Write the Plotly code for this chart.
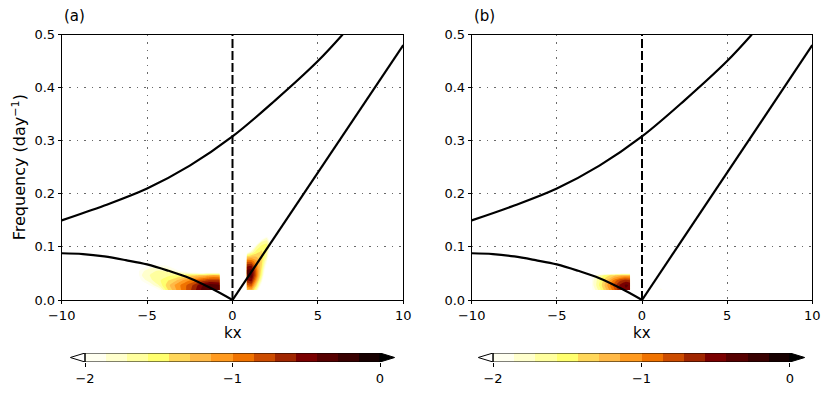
import plotly.graph_objects as go

# ページ余白 (body margin 8px) を差し引いた図のサイズ
OFF = 8
W, H = 830 - 2 * OFF, 394 - 2 * OFF

# 等高線の階級 (log10 パワー, -2 〜 0 を 14 階級)
level_start = -2.0
level_end = 0.0
level_size = 1 / 7
level_colors = ["#FFFFF0", "#FFFFCC", "#FFFF9E", "#FFFF6E", "#FFD75A", "#FFB947", "#FF9A1F",
                "#F07300", "#CC4C00", "#A02600", "#7A0000", "#560000", "#380000", "#160000"]

# 分散関係曲線
ig_kx = [-10, -7.5, -5, -2.5, 0, 2.5, 5, 6.45]
ig_freq = [0.150, 0.178, 0.210, 0.253, 0.308, 0.376, 0.450, 0.500]
rossby_kx = [-10, -8.75, -7.5, -6.25, -5, -3.75, -2.5, -1.25, 0]
rossby_freq = [0.088, 0.0865, 0.082, 0.075, 0.067, 0.055, 0.041, 0.022, 0.0]
kelvin_kx = [0, 10]
kelvin_freq = [0.0, 0.48]

# (a) 西進側のパワー
a_west_kx = [-5.8, -5.3, -4.8, -4.3, -3.8, -3.3, -2.8, -2.3, -1.8, -1.3, -0.75]
a_west_freq = [0.019, 0.028, 0.037, 0.046, 0.055, 0.064, 0.073]
a_west_z = [
    [-3.0, -2.8, -2.4, -2.0, -1.45, -1.15, -0.9, -0.65, -0.4, -0.3, -0.35],
    [-3.0, -2.3, -1.95, -1.7, -1.35, -1.1, -0.9, -0.7, -0.45, -0.35, -0.4],
    [-2.6, -1.95, -1.75, -1.6, -1.45, -1.3, -1.1, -0.95, -0.8, -0.7, -0.7],
    [-2.3, -1.85, -1.7, -1.6, -1.6, -1.55, -1.45, -1.35, -1.25, -1.15, -1.15],
    [-2.2, -1.9, -1.75, -1.7, -1.75, -1.9, -2.1, -2.4, -2.6, -2.6, -2.6],
    [-2.6, -2.15, -1.95, -1.9, -1.95, -2.3, -2.8, -3.0, -3.0, -3.0, -3.0],
    [-3.0, -2.8, -2.5, -2.4, -2.6, -3.0, -3.0, -3.0, -3.0, -3.0, -3.0],
]

# (a) 東進側のパワー
a_east_kx = [0.83, 1.1, 1.4, 1.7, 2.0, 2.3]
a_east_freq = [0.019, 0.028, 0.037, 0.046, 0.055, 0.064, 0.073, 0.082, 0.091, 0.100, 0.109, 0.118, 0.127]
a_east_z = [
    [-1.3, -1.2, -1.7, -2.4, -3.0, -3.0],
    [-0.9, -0.8, -1.4, -2.1, -3.0, -3.0],
    [-0.6, -0.5, -1.1, -1.8, -2.8, -3.0],
    [-0.45, -0.35, -0.9, -1.6, -2.5, -3.0],
    [-0.4, -0.35, -0.9, -1.5, -2.3, -3.0],
    [-0.6, -0.55, -1.0, -1.4, -2.1, -3.0],
    [-0.9, -0.9, -1.1, -1.35, -1.9, -2.8],
    [-1.4, -1.3, -1.3, -1.35, -1.7, -2.6],
    [-2.2, -1.8, -1.5, -1.4, -1.6, -2.4],
    [-3.0, -2.4, -1.7, -1.5, -1.5, -2.2],
    [-3.0, -3.0, -2.3, -1.7, -1.6, -2.2],
    [-3.0, -3.0, -3.0, -2.3, -1.9, -2.4],
    [-3.0, -3.0, -3.0, -3.0, -2.6, -3.0],
]

# (b) 西進側のパワー
b_west_kx = [-3.3, -2.9, -2.5, -2.1, -1.7, -1.3, -0.95, -0.7]
b_west_freq = [0.019, 0.028, 0.037, 0.046, 0.055]
b_west_z = [
    [-3.0, -2.0, -1.65, -1.3, -0.95, -0.6, -0.45, -0.5],
    [-3.0, -1.9, -1.55, -1.2, -0.85, -0.55, -0.4, -0.45],
    [-3.0, -1.9, -1.6, -1.3, -1.0, -0.75, -0.65, -0.7],
    [-3.0, -2.0, -1.7, -1.5, -1.35, -1.25, -1.2, -1.2],
    [-3.0, -3.0, -3.0, -3.0, -3.0, -3.0, -3.0, -3.0],
]

# (b) 東進側のわずかなパワー
b_east_kx = [0.83, 1.1, 1.4]
b_east_freq = [0.019, 0.028]
b_east_z = [
    [-2.3, -1.85, -2.3],
    [-3.0, -2.3, -3.0],
]

FONT = "DejaVu Sans"

# 等高線の塗り: 下限未満は透明, 上限超は黒
contour_scale = [[0.0, "rgba(255,255,255,0)"]]
for i, c in enumerate(level_colors):
    contour_scale.append([(i + 1) / 15, c])
contour_scale.append([1.0, "#000000"])


def px_x(p):
    # 画面上の x ピクセル -> paper 座標
    return (p - OFF) / W


def px_y(p):
    # 画面上の y ピクセル -> paper 座標
    return (H - (p - OFF)) / H


def blob(kx, freq, z, xa, ya):
    return go.Contour(
        x=kx, y=freq, z=z, xaxis=xa, yaxis=ya,
        contours=dict(start=level_start, end=level_end, size=level_size,
                      coloring="fill", showlines=False),
        colorscale=contour_scale, showscale=False,
        line=dict(width=0, smoothing=0.6), hoverinfo="skip",
    )


def curves(xa, ya):
    style = dict(color="black", width=2.2)
    out = [
        # 破線の下地（グリッドを隠す）
        go.Scatter(x=[0, 0], y=[0, 0.5], mode="lines", line=dict(color="white", width=3),
                   xaxis=xa, yaxis=ya, hoverinfo="skip"),
        go.Scatter(x=[0, 0], y=[0, 0.5], mode="lines",
                   line=dict(color="black", width=2, dash="9px,3px"),
                   xaxis=xa, yaxis=ya, hoverinfo="skip"),
        go.Scatter(x=ig_kx, y=ig_freq, mode="lines", line=dict(shape="spline", **style),
                   xaxis=xa, yaxis=ya),
        go.Scatter(x=rossby_kx, y=rossby_freq, mode="lines", line=dict(shape="spline", **style),
                   xaxis=xa, yaxis=ya),
        go.Scatter(x=kelvin_kx, y=kelvin_freq, mode="lines", line=style,
                   xaxis=xa, yaxis=ya),
    ]
    return out


def colorbar(xa, ya):
    n = len(level_colors)
    bar_scale = [[i / (n - 1), c] for i, c in enumerate(level_colors)]
    tip = 0.1
    return [
        go.Heatmap(z=[list(range(n))], x0=level_start + level_size / 2, dx=level_size,
                   y0=0.5, dy=1, zmin=0, zmax=n - 1, colorscale=bar_scale,
                   showscale=False, xaxis=xa, yaxis=ya, hoverinfo="skip"),
        go.Scatter(x=[level_start, level_start - tip, level_start, level_start],
                   y=[0, 0.5, 1, 0], mode="lines", fill="toself", fillcolor="white",
                   line=dict(color="black", width=1), xaxis=xa, yaxis=ya, hoverinfo="skip"),
        go.Scatter(x=[level_end, level_end + tip, level_end, level_end],
                   y=[0, 0.5, 1, 0], mode="lines", fill="toself", fillcolor="black",
                   line=dict(color="black", width=1), xaxis=xa, yaxis=ya, hoverinfo="skip"),
    ]


fig = go.Figure()
for t in [blob(a_west_kx, a_west_freq, a_west_z, "x", "y"),
          blob(a_east_kx, a_east_freq, a_east_z, "x", "y")]:
    fig.add_trace(t)
for t in curves("x", "y"):
    fig.add_trace(t)
for t in [blob(b_west_kx, b_west_freq, b_west_z, "x2", "y2"),
          blob(b_east_kx, b_east_freq, b_east_z, "x2", "y2")]:
    fig.add_trace(t)
for t in curves("x2", "y2"):
    fig.add_trace(t)
for t in colorbar("x3", "y3"):
    fig.add_trace(t)
for t in colorbar("x4", "y4"):
    fig.add_trace(t)

grid = dict(showgrid=True, gridcolor="#6a6a6a", gridwidth=1.3, griddash="1.5px,6px")
main_x = dict(
    range=[-10, 10], tickvals=[-10, -5, 0, 5, 10],
    ticktext=["\u221210", "\u22125", "0", "5", "10"],
    showline=True, linecolor="black", linewidth=1, mirror=True,
    ticks="outside", ticklen=3, tickcolor="black", automargin=False,
    zeroline=False, tickfont=dict(family=FONT, size=13, color="black"), **grid,
)
main_y = dict(
    range=[0, 0.5], tickvals=[0, 0.1, 0.2, 0.3, 0.4, 0.5],
    ticktext=["0.0", "0.1", "0.2", "0.3", "0.4", "0.5"],
    showline=True, linecolor="black", linewidth=1, mirror=True,
    ticks="outside", ticklen=3, tickcolor="black", automargin=False,
    zeroline=False, tickfont=dict(family=FONT, size=13, color="black"), **grid,
)
cb_x = dict(
    tickvals=[-2, -1, 0], ticktext=["\u22122", "\u22121", "0"],
    ticks="outside", ticklen=4, tickcolor="black", showline=False, automargin=False,
    showgrid=False, zeroline=False, tickfont=dict(family=FONT, size=13, color="black"),
)
cb_y = dict(range=[0, 1], visible=False, fixedrange=True, automargin=False)

plot_top, plot_bot = 34.5, 300
a_l, a_r = 61.7, 403.3
b_l, b_r = 471.7, 812.3
cb_top, cb_bot = 353, 362

fig.update_layout(
    width=W, height=H, margin=dict(l=0, r=0, t=0, b=0, pad=0, autoexpand=False),
    paper_bgcolor="white", plot_bgcolor="white", showlegend=False,
    font=dict(family=FONT, size=13, color="black"),
    xaxis=dict(main_x, domain=[px_x(a_l), px_x(a_r)], anchor="y"),
    yaxis=dict(main_y, domain=[px_y(plot_bot), px_y(plot_top)], anchor="x"),
    xaxis2=dict(main_x, domain=[px_x(b_l), px_x(b_r)], anchor="y2"),
    yaxis2=dict(main_y, domain=[px_y(plot_bot), px_y(plot_top)], anchor="x2"),
    xaxis3=dict(cb_x, range=[-2.1, 0.1], domain=[px_x(70.25), px_x(394.75)], anchor="y3"),
    yaxis3=dict(cb_y, domain=[px_y(cb_bot), px_y(cb_top)], anchor="x3"),
    xaxis4=dict(cb_x, range=[-2.1, 0.1], domain=[px_x(478.2), px_x(804.8)], anchor="y4"),
    yaxis4=dict(cb_y, domain=[px_y(cb_bot), px_y(cb_top)], anchor="x4"),
)

# カラーバーの枠
for xr, yr in [("x3", "y3"), ("x4", "y4")]:
    fig.add_shape(type="rect", xref=xr, yref=yr, x0=level_start, x1=level_end, y0=0, y1=1,
                  line=dict(color="black", width=1))

ann = dict(showarrow=False, xref="paper", yref="paper", font=dict(family=FONT, color="black"))
fig.add_annotation(ann, text="(a)", x=px_x(a_l), y=px_y(16), xanchor="left", yanchor="middle",
                   font_size=15)
fig.add_annotation(ann, text="(b)", x=px_x(b_l), y=px_y(16), xanchor="left", yanchor="middle",
                   font_size=15)
for l, r in [(a_l, a_r), (b_l, b_r)]:
    fig.add_annotation(ann, text="kx", x=px_x((l + r) / 2), y=px_y(333),
                       xanchor="center", yanchor="middle", font_size=15)
fig.add_annotation(ann, text="Frequency (day<sup>\u22121</sup>)", x=px_x(19),
                   y=px_y((plot_top + plot_bot) / 2), xanchor="center", yanchor="middle",
                   textangle=-90, font_size=16)

fig.write_html("out.html")
